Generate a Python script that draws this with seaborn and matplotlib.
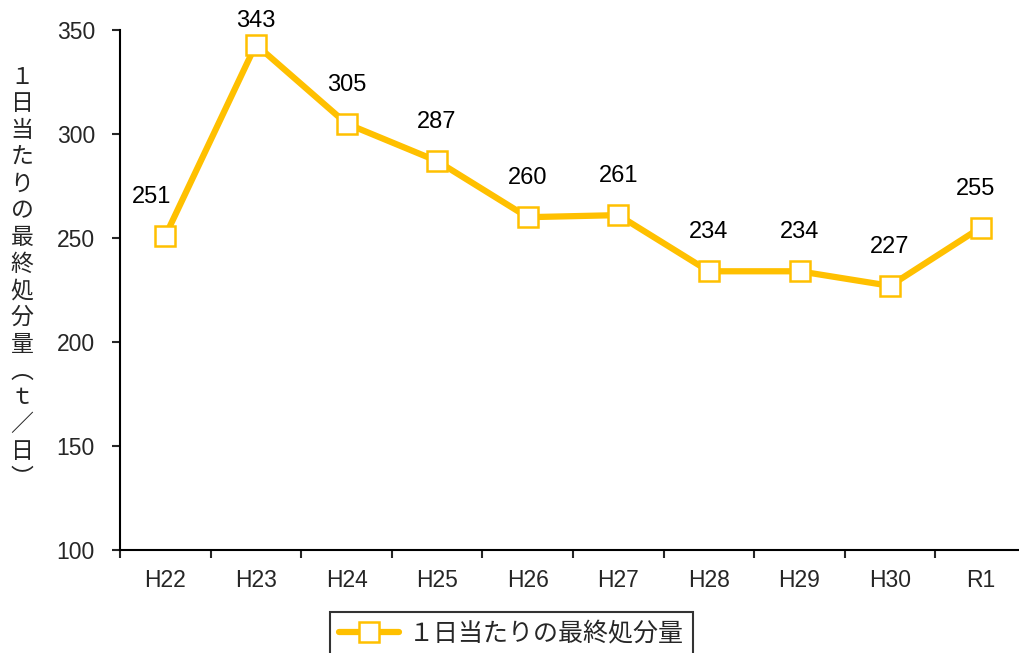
import numpy as np
import matplotlib
matplotlib.use('Agg')
import matplotlib.pyplot as plt
import seaborn as sns
import pandas as pd

years = ['H22', 'H23', 'H24', 'H25', 'H26', 'H27', 'H28', 'H29', 'H30', 'R1']
amount = [251, 343, 305, 287, 260, 261, 234, 234, 227, 255]
series_name = '１日当たりの最終処分量'
ylabel_chars = ['１', '日', '当', 'た', 'り', 'の', '最', '終', '処', '分', '量', '︵', 'ｔ', '／', '日', '︶']

df = pd.DataFrame({'year': years, 'amount': amount})
df['x'] = np.arange(len(df))

sns.set_style('white')
plt.rcParams['font.family'] = ['Liberation Sans', 'Noto Sans CJK JP', 'DejaVu Sans']

color = '#FFC000'
fig = plt.figure(figsize=(10.19, 6.53), dpi=100)
ax = fig.add_axes([120 / 1019, 1 - 550 / 653, 906 / 1019, 520 / 653])

sns.lineplot(data=df, x='x', y='amount', ax=ax, color=color, linewidth=4.5,
             marker='s', markersize=14, markerfacecolor='white',
             markeredgecolor=color, markeredgewidth=1.8, label=series_name, legend=False)

top = max(amount)
for i, v in enumerate(amount):
    dx = -10 if i == 0 else (-4 if i == len(amount) - 1 else 0)
    dy = 17 if v == top else 28
    ax.annotate(str(v), (i, v), xytext=(dx, dy), textcoords='offset points',
                ha='center', va='center', fontsize=17, color='black')

ax.set_xlim(-0.5, len(years) - 0.5)
ax.set_ylim(100, 350)
ax.set_yticks([100, 150, 200, 250, 300, 350])
ax.set_xticks(df['x'])
ax.set_xticklabels(years)
ax.set_xticks(np.arange(-0.5, len(years)), minor=True)
ax.tick_params(axis='x', which='major', length=0, pad=14, labelsize=16.5)
ax.tick_params(axis='x', which='minor', length=6, width=1.5, direction='out', bottom=True)
ax.tick_params(axis='y', length=6, width=1.5, direction='out', left=True, labelsize=16.5, pad=12)
ax.set_xlabel('')
ax.set_ylabel('')

for s in ['top', 'right']:
    ax.spines[s].set_visible(False)
for s in ['left', 'bottom']:
    ax.spines[s].set_color('black')
    ax.spines[s].set_linewidth(1.5)

for i, ch in enumerate(ylabel_chars):
    fig.text(22 / 1019, 1 - (77 + i * 26.75) / 653, ch, ha='center', va='center',
             fontsize=16.5, family=['Noto Sans CJK JP', 'DejaVu Sans'])

handles, labels = ax.get_legend_handles_labels()
leg = fig.legend(handles, labels, loc='upper center', bbox_to_anchor=(0.502, 0.063),
                 fontsize=18, frameon=True, fancybox=False, edgecolor='black',
                 borderpad=0.35, handlelength=2.4, handletextpad=0.4, borderaxespad=0)
leg.get_frame().set_linewidth(1.5)
for t in leg.get_texts():
    t.set_family(['Noto Sans CJK JP', 'DejaVu Sans'])

fig.savefig('out.png', dpi=100)
